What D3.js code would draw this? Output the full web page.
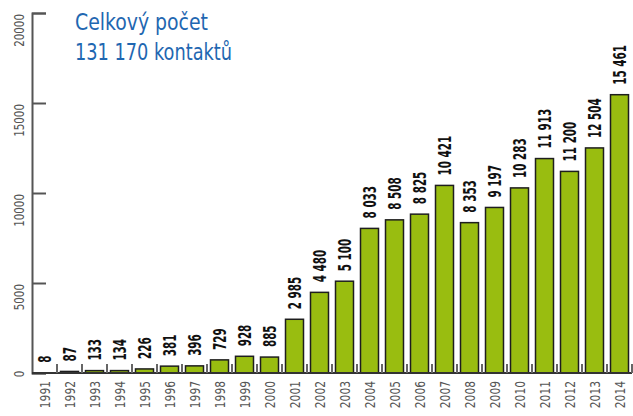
<!DOCTYPE html>
<html>
<head>
<meta charset="utf-8">
<script src="https://cdn.jsdelivr.net/npm/d3@7"></script>
<style>
  html, body { margin: 0; padding: 0; background: #fff; }
  svg { display: block; font-family: "Liberation Sans Narrow", "DejaVu Sans Condensed", sans-serif; }
</style>
</head>
<body>
<div id="chart"></div>
<script>
// Data
const years = ['1991', '1992', '1993', '1994', '1995', '1996', '1997', '1998', '1999', '2000',
  '2001', '2002', '2003', '2004', '2005', '2006', '2007', '2008', '2009', '2010',
  '2011', '2012', '2013', '2014'];
const contacts = [8, 87, 133, 134, 226, 381, 396, 729, 928, 885,
  2985, 4480, 5100, 8033, 8508, 8825, 10421, 8353, 9197, 10283,
  11913, 11200, 12504, 15461];
const yTicks = [0, 5000, 10000, 15000, 20000];
const titleLines = ['Celkový počet', '131 170 kontaktů'];
const titleWidths = [133, 157];

const width = 633, height = 416;
const plot = { left: 32, right: 632, top: 13, bottom: 373 };

const svg = d3.select('#chart').append('svg')
  .attr('width', width).attr('height', height);

const x = d3.scaleBand().domain(years).range([plot.left, plot.right])
  .paddingInner(0.28).paddingOuter(0.14);
const y = d3.scaleLinear().domain([0, 20000]).range([plot.bottom, plot.top]);

const rows = years.map((yr, i) => ({ year: yr, value: contacts[i] }));
const fmt = (v) => d3.format(',')(v).replace(/,/g, ' ');

// bars
svg.append('g').selectAll('rect').data(rows).join('rect')
  .attr('x', (d) => x(d.year))
  .attr('y', (d) => y(d.value))
  .attr('width', x.bandwidth())
  .attr('height', (d) => plot.bottom - y(d.value))
  .attr('fill', '#99bd10')
  .attr('stroke', '#1e1e1e')
  .attr('stroke-width', 1.5);

// y axis (ticks point right, labels rotated)
const yAxisG = svg.append('g').attr('transform', `translate(${plot.left},0)`)
  .call(d3.axisRight(y).tickValues(yTicks).tickSize(14).tickFormat(''));
yAxisG.select('.domain').attr('stroke', '#555').attr('stroke-width', 2);
yAxisG.selectAll('.tick line').attr('stroke', '#555').attr('stroke-width', 2);

svg.append('g').selectAll('text').data(yTicks).join('text')
  .attr('transform', (d) => `translate(23.5,${y(d) + 1}) rotate(-90) scale(0.82,1)`)
  .attr('text-anchor', (d) => d === 0 ? 'middle' : 'end')
  .attr('fill', '#555')
  .attr('font-size', 14)
  .text((d) => d);

// baseline and separators between bars
svg.append('line')
  .attr('x1', plot.left).attr('x2', plot.right).attr('y1', plot.bottom).attr('y2', plot.bottom)
  .attr('stroke', '#333').attr('stroke-width', 2);
const sepX = (d) => x(d) - x.step() * x.paddingOuter() + x.step();
svg.append('g').selectAll('line').data(years).join('line')
  .attr('x1', sepX).attr('x2', sepX)
  .attr('y1', plot.bottom - 9).attr('y2', plot.bottom)
  .attr('stroke', '#666').attr('stroke-width', 2);

// year labels
svg.append('g').selectAll('text').data(years).join('text')
  .attr('transform', (d) => `translate(${x(d) + x.bandwidth() / 2 + 5},381) rotate(-90) scale(0.88,1)`)
  .attr('text-anchor', 'end')
  .attr('fill', '#555')
  .attr('font-size', 13.5)
  .text((d) => d);

// value labels
svg.append('g').selectAll('text').data(rows).join('text')
  .attr('transform', (d) => `translate(${x(d.year) + x.bandwidth() / 2 + 6.5},${y(d.value) - 10}) rotate(-90) scale(0.64,1)`)
  .attr('text-anchor', 'start')
  .attr('fill', '#111')
  .attr('font-size', 18)
  .attr('font-weight', 'bold')
  .text((d) => fmt(d.value));

// title
svg.append('g').selectAll('text').data(titleLines).join('text')
  .attr('x', 75)
  .attr('y', (d, i) => 30 + i * 30)
  .attr('fill', '#1f67b1')
  .attr('font-size', 23.5)
  .attr('textLength', (d, i) => titleWidths[i])
  .attr('lengthAdjust', 'spacingAndGlyphs')
  .text((d) => d);
</script>
</body>
</html>
